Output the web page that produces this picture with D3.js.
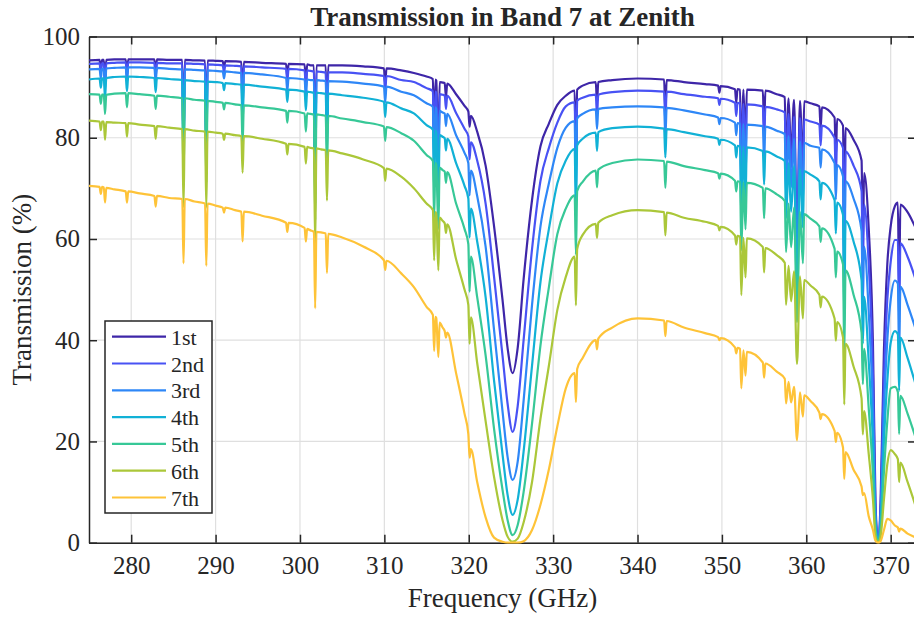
<!DOCTYPE html>
<html lang="en">
<head>
<meta charset="UTF-8">
<title>Transmission in Band 7 at Zenith</title>
<script src="https://cdn.jsdelivr.net/npm/d3@7/dist/d3.min.js"></script>
<style>
    body { margin: 0; background: #fff; }
    text { font-family: "Liberation Serif", "Times New Roman", serif; fill: #262626; }
</style>
</head>
<body>
<svg id="main-svg" width="914" height="618" xmlns="http://www.w3.org/2000/svg"></svg>
<script>
'use strict';

// frequency grid (GHz), one line per stretch of the band
const freqs = [
    275, 276.25, 276.4, 276.55, 276.75, 276.9, 277.05, 278, 279.35, 279.5, 279.65, 281, 282.75, 282.9, 283.05,
    284.5, 286.05, 286.2, 286.35, 287.5, 288.75, 288.9, 289.05, 290, 290.85, 291.0, 291.15, 292.3, 293.05, 293.2, 293.35, 295.5, 298.35, 298.5, 298.65,
    300.55, 300.7, 300.85, 301.25, 301.65, 301.8, 301.95, 302.5, 303.05, 303.2, 303.35, 305, 307.5, 309.95, 310.1, 310.25, 312,
    313.5, 315, 315.75, 315.9, 316.05, 316.15, 316.4, 316.55, 316.9, 317.15, 317.3, 317.45, 318.5, 319.5, 319.95, 320.1, 320.25, 321,
    322, 323, 324, 324.6, 325.2, 325.8, 326.5, 327.5, 328.5, 329.5, 330.5, 331.5,
    332.55, 332.7, 332.85, 333.5, 335.05, 335.2, 335.35, 337, 340, 343.15, 343.3, 343.45, 345.5, 348,
    349.55, 349.7, 349.85, 351.55, 351.7, 351.85, 352.15, 352.3, 352.55, 352.8, 352.95, 354.85, 355.0, 355.15, 356.5, 357.45, 357.6, 357.9, 358.2, 358.55, 358.9, 359.25, 359.6, 359.75, 360.5,
    361.55, 361.7, 361.85, 363.35, 363.5, 363.65, 364.35, 364.5, 364.65, 365.6, 366.55, 366.7, 366.85, 367.4, 367.9, 368.2, 368.5, 368.8, 369.2, 369.6, 370.0, 370.5, 370.85, 371.0, 371.15, 372, 373
];

// transmission (%) for each octile, same grid as freqs
const trans1st = [
    95.3, 95.4, 93.5, 95.4, 95.4, 91.3, 95.4, 95.5, 95.5, 92.4, 95.5, 95.5, 95.5, 92.6, 95.5,
    95.4, 95.4, 77.5, 95.4, 95.3, 95.25, 77.6, 95.25, 95.2, 95.15, 93.7, 95.15, 95.1, 95.0, 86.5, 95.0, 94.8, 94.6, 92.0, 94.6,
    94.5, 90.5, 94.5, 94.3, 94.3, 71.1, 94.3, 94.3, 94.3, 82.2, 94.3, 94.3, 94.1, 93.7, 90.5, 93.7, 93.3,
    92.8, 92.1, 91.6, 77.9, 91.5, 91.3, 75.8, 91.0, 90.9, 90.8, 88.1, 90.7, 88.6, 86.3, 85.2, 82.2, 84.3, 81.2,
    74.5, 62.5, 48.0, 38.5, 33.5, 38.5, 52.0, 67.7, 78.3, 82.8, 86.5, 88.3,
    89.3, 74.1, 89.5, 90.3, 91.0, 86.9, 91.0, 91.4, 91.7, 91.5, 85.1, 91.4, 91.0, 90.6,
    90.3, 88.9, 90.2, 89.6, 86.9, 89.6, 89.5, 72.5, 89.5, 77.9, 89.5, 89.3, 81.7, 89.3, 88.6, 88.0, 74.8, 87.8, 76.7, 87.5, 57.7, 87.3, 73.7, 87.2, 86.8,
    86.2, 81.9, 86.0, 84.0, 75.9, 83.7, 82.4, 55.9, 81.9, 79.6, 75.5, 58.4, 73.0, 62.0, 39.0, 8.0, 0.2, 8.0, 38.0, 55.0, 62.5, 66.5, 67.2, 49.5, 66.8, 65.3, 62.0
];
const trans2nd = [
    94.6, 94.7, 92.8, 94.7, 94.7, 90.6, 94.7, 94.8, 94.9, 91.9, 94.9, 94.9, 94.8, 92.0, 94.8,
    94.7, 94.7, 76.9, 94.7, 94.6, 94.5, 77.0, 94.5, 94.4, 94.3, 92.9, 94.3, 94.2, 94.1, 85.6, 94.1, 93.9, 93.6, 91.1, 93.6,
    93.3, 89.4, 93.3, 93.2, 93.1, 70.2, 93.1, 93.0, 92.9, 81.0, 92.9, 92.9, 92.6, 92.2, 89.1, 92.2, 91.4,
    91.0, 89.8, 89.2, 75.8, 89.1, 88.9, 73.8, 88.6, 88.5, 88.4, 85.7, 88.3, 84.9, 81.8, 80.3, 75.7, 79.1, 75.5,
    67.0, 52.5, 37.0, 27.5, 21.9, 27.0, 40.0, 58.0, 71.5, 78.0, 83.0, 86.2,
    87.0, 72.2, 87.3, 87.9, 88.5, 84.5, 88.5, 89.0, 89.3, 89.1, 82.9, 89.1, 88.6, 88.1,
    87.8, 86.5, 87.7, 86.9, 84.3, 86.9, 86.8, 70.3, 86.7, 75.4, 86.6, 86.2, 78.9, 86.1, 85.6, 85.0, 72.3, 84.7, 74.0, 84.2, 55.6, 83.9, 70.9, 83.6, 83.2,
    82.6, 78.5, 82.4, 80.0, 72.3, 79.6, 78.0, 52.8, 77.3, 74.5, 69.5, 53.6, 66.8, 55.0, 33.0, 6.5, 0.2, 6.5, 32.0, 48.0, 55.5, 59.8, 59.8, 43.5, 59.2, 56.5, 51.8
];
const trans3rd = [
    93.5, 93.6, 91.7, 93.6, 93.6, 89.6, 93.7, 93.8, 93.9, 90.9, 93.9, 93.9, 93.8, 91.0, 93.8,
    93.6, 93.5, 75.9, 93.5, 93.4, 93.3, 76.0, 93.3, 93.2, 93.1, 91.7, 93.1, 92.9, 92.8, 84.4, 92.8, 92.5, 91.8, 89.3, 91.8,
    91.5, 87.7, 91.5, 91.4, 91.4, 68.9, 91.4, 91.3, 91.2, 79.5, 91.2, 91.1, 90.7, 90.1, 87.0, 90.1, 89.1,
    88.4, 86.8, 86.1, 73.2, 86.0, 85.7, 71.1, 85.3, 85.0, 84.8, 82.3, 84.7, 80.5, 77.0, 75.0, 68.6, 73.5, 68.5,
    58.5, 42.0, 26.0, 17.0, 12.4, 16.0, 28.0, 47.0, 62.5, 71.0, 78.0, 82.0,
    83.3, 69.1, 83.8, 84.7, 85.6, 81.7, 85.7, 86.0, 86.2, 86.0, 80.0, 85.9, 85.4, 84.6,
    84.0, 82.7, 83.9, 83.0, 80.5, 82.9, 82.8, 67.0, 82.7, 71.9, 82.6, 82.3, 75.3, 82.2, 81.4, 80.7, 68.6, 80.3, 70.2, 79.8, 52.7, 79.3, 67.0, 79.0, 78.4,
    78.0, 74.1, 77.7, 75.0, 67.8, 74.6, 72.4, 49.0, 71.4, 68.0, 61.6, 47.1, 58.5, 45.5, 26.0, 5.0, 0.2, 5.0, 26.0, 40.0, 48.0, 51.8, 51.2, 37.0, 50.6, 47.0, 42.0
];
const trans4th = [
    91.5, 91.7, 89.9, 91.7, 91.8, 87.8, 91.8, 92.0, 92.1, 89.2, 92.1, 92.0, 91.8, 89.0, 91.8,
    91.6, 91.4, 74.2, 91.4, 91.2, 91.1, 74.2, 91.1, 91.0, 90.8, 89.4, 90.8, 90.6, 90.5, 82.4, 90.5, 90.1, 89.5, 87.1, 89.5,
    89.1, 85.4, 89.1, 89.0, 88.9, 67.0, 88.9, 88.8, 88.7, 77.3, 88.7, 88.4, 87.9, 87.1, 84.1, 87.0, 85.8,
    84.8, 82.5, 81.6, 69.4, 81.4, 81.0, 67.2, 80.5, 80.2, 79.9, 77.5, 79.8, 75.0, 70.5, 68.0, 60.3, 66.0, 59.5,
    48.5, 32.0, 17.5, 9.5, 5.5, 8.5, 18.0, 35.0, 51.5, 62.0, 71.0, 75.5,
    77.8, 64.6, 78.5, 79.8, 81.0, 77.4, 81.1, 81.9, 82.2, 81.8, 76.1, 81.7, 81.1, 80.3,
    79.8, 78.6, 79.6, 78.5, 76.1, 78.4, 78.3, 63.4, 78.2, 68.0, 78.1, 77.4, 70.8, 77.3, 76.3, 75.4, 64.1, 75.0, 65.4, 74.4, 49.0, 73.8, 62.3, 73.4, 72.7,
    71.4, 67.8, 71.1, 67.7, 61.1, 67.2, 64.8, 43.8, 63.6, 59.5, 51.8, 39.3, 48.6, 35.7, 19.5, 3.5, 0.2, 3.5, 20.0, 32.0, 39.5, 41.8, 41.2, 30.0, 40.5, 36.5, 31.0
];
const trans5th = [
    88.6, 88.5, 86.7, 88.5, 88.5, 84.7, 88.5, 88.7, 88.8, 86.0, 88.8, 88.6, 88.3, 85.7, 88.3,
    88.1, 87.8, 71.3, 87.8, 87.5, 87.3, 71.1, 87.3, 87.1, 86.9, 85.6, 86.9, 86.6, 86.4, 78.6, 86.4, 86.0, 85.3, 83.0, 85.3,
    84.8, 81.2, 84.8, 84.7, 84.6, 63.8, 84.6, 84.5, 84.3, 73.5, 84.3, 83.8, 83.1, 82.2, 79.4, 82.1, 80.9,
    79.4, 76.6, 75.4, 64.1, 75.0, 74.7, 62.0, 74.1, 73.6, 73.3, 71.1, 73.2, 67.0, 62.0, 59.0, 49.6, 56.5, 48.5,
    37.0, 22.5, 10.5, 4.5, 1.5, 3.5, 10.0, 23.5, 39.0, 50.5, 61.0, 66.0,
    68.6, 56.9, 69.5, 71.3, 73.5, 70.2, 73.7, 75.0, 75.7, 75.4, 70.1, 75.3, 74.4, 73.6,
    73.0, 71.9, 72.9, 71.5, 69.4, 71.4, 71.3, 57.8, 71.2, 61.9, 71.1, 70.1, 64.1, 70.0, 68.8, 67.5, 57.4, 67.0, 58.4, 66.2, 43.6, 65.4, 55.2, 64.9, 64.0,
    62.5, 59.4, 62.1, 58.1, 52.4, 57.5, 55.0, 37.1, 53.8, 49.0, 41.5, 31.3, 38.3, 26.5, 13.5, 2.3, 0.2, 2.3, 14.0, 24.0, 30.5, 30.8, 29.8, 21.5, 29.0, 25.5, 20.5
];
const trans6th = [
    83.4, 83.2, 81.5, 83.2, 83.2, 79.6, 83.1, 83.0, 82.9, 80.2, 82.9, 82.6, 82.3, 79.8, 82.3,
    82.0, 81.7, 66.3, 81.7, 81.4, 81.2, 66.2, 81.2, 81.0, 80.8, 79.6, 80.8, 80.5, 80.3, 73.1, 80.3, 79.8, 78.8, 76.7, 78.8,
    78.2, 74.9, 78.2, 78.0, 77.9, 58.7, 77.9, 77.7, 77.5, 67.6, 77.5, 76.9, 75.7, 74.0, 71.5, 73.9, 72.3,
    70.0, 67.0, 65.7, 55.8, 65.3, 65.0, 53.8, 64.2, 63.6, 63.1, 61.2, 62.9, 56.0, 50.0, 47.0, 39.3, 44.5, 35.5,
    24.0, 13.0, 4.5, 1.2, 0.2, 0.8, 4.0, 12.0, 24.5, 35.0, 46.0, 52.5,
    56.5, 46.9, 58.0, 60.8, 63.0, 60.2, 63.2, 64.7, 65.7, 65.3, 60.7, 65.2, 64.2, 63.4,
    62.6, 61.7, 62.4, 60.7, 58.9, 60.6, 60.4, 48.9, 60.2, 52.4, 60.1, 58.4, 53.4, 58.2, 56.8, 55.3, 47.0, 54.7, 47.7, 53.6, 35.3, 52.6, 44.3, 51.9, 50.8,
    49.0, 46.5, 48.6, 44.3, 39.9, 43.6, 40.6, 27.3, 39.3, 34.8, 28.5, 21.4, 26.0, 17.5, 8.5, 1.3, 0.1, 1.2, 8.5, 15.5, 18.3, 17.5, 16.5, 12.0, 15.8, 12.0, 7.0
];
const trans7th = [
    70.5, 70.3, 68.9, 70.3, 70.2, 67.2, 70.1, 69.8, 69.4, 67.2, 69.4, 69.0, 68.5, 66.4, 68.5,
    68.1, 67.9, 55.2, 67.9, 67.4, 67.0, 54.7, 67.0, 66.6, 66.2, 65.2, 66.2, 65.7, 65.4, 59.5, 65.4, 64.6, 63.2, 61.4, 63.2,
    62.2, 59.5, 62.0, 61.7, 61.4, 46.3, 61.4, 61.3, 61.1, 53.3, 61.0, 60.3, 58.5, 55.8, 53.9, 55.7, 53.2,
    50.5, 46.6, 45.0, 37.9, 44.6, 44.4, 36.7, 43.5, 42.5, 41.8, 40.5, 41.5, 33.5, 25.5, 21.5, 16.8, 18.5, 12.0,
    5.0, 1.0, 0.2, 0.0, 0.0, 0.0, 0.3, 2.5, 7.5, 14.5, 23.0, 30.5,
    33.5, 27.8, 34.3, 36.5, 40.0, 38.2, 40.3, 42.5, 44.3, 43.9, 40.8, 43.8, 42.5, 41.4,
    40.6, 40.0, 40.4, 38.6, 37.4, 38.5, 38.3, 30.5, 38.0, 33.0, 37.7, 35.6, 32.6, 35.4, 33.8, 32.4, 27.5, 31.8, 27.7, 30.8, 20.2, 29.7, 24.9, 29.1, 28.0,
    25.7, 24.4, 25.4, 22.1, 19.9, 21.7, 18.8, 12.6, 17.9, 14.4, 11.1, 9.4, 9.8, 5.2, 2.5, 0.4, 0.0, 0.3, 2.5, 4.7, 4.4, 3.4, 3.0, 2.2, 2.8, 1.8, 1.0
];

const seriesNames = ['1st', '2nd', '3rd', '4th', '5th', '6th', '7th'];
const seriesValues = [trans1st, trans2nd, trans3rd, trans4th, trans5th, trans6th, trans7th];
// parula-like colours
const seriesColors = ['#3e26a8', '#4852f4', '#2e87f7', '#11b1d6', '#37c897', '#abc739', '#fec338'];

const xTicks = [280, 290, 300, 310, 320, 330, 340, 350, 360, 370];
const yTicks = [0, 20, 40, 60, 80, 100];

seriesValues.forEach((v, i) => {
    if (v.length !== freqs.length) console.warn(seriesNames[i], v.length, freqs.length);
});

const svg = d3.select('#main-svg');
const plotLeft = 89, plotRight = 916, plotTop = 36.5, plotBottom = 542.7;

const x = d3.scaleLinear().domain([275, 373]).range([plotLeft, plotRight]);
const y = d3.scaleLinear().domain([0, 100]).range([plotBottom, plotTop]);

/* grid lines */
const grid = svg.append('g').attr('stroke', '#dfdfdf').attr('stroke-width', 1.2);
grid.selectAll('.gx').data(xTicks).join('line')
    .attr('x1', d => x(d)).attr('x2', d => x(d))
    .attr('y1', plotTop).attr('y2', plotBottom);
grid.selectAll('.gy').data(yTicks).join('line')
    .attr('x1', plotLeft).attr('x2', plotRight)
    .attr('y1', d => y(d)).attr('y2', d => y(d));

/* axes, ticks pointing inward like matlab */
const styleAxis = g => {
    g.select('.domain').attr('stroke', '#262626').attr('stroke-width', 1.5);
    g.selectAll('.tick line').attr('stroke', '#262626').attr('stroke-width', 1.5);
    g.selectAll('text').attr('font-size', 25).attr('fill', '#262626')
        .attr('font-family', '"Liberation Serif", "Times New Roman", serif');
};
svg.append('g').attr('transform', `translate(0,${plotBottom})`)
    .call(d3.axisBottom(x).tickValues(xTicks).tickSize(-8).tickSizeOuter(0).tickPadding(14))
    .call(styleAxis);
svg.append('g').attr('transform', `translate(0,${plotTop})`)
    .call(d3.axisTop(x).tickValues(xTicks).tickSize(-8).tickSizeOuter(0).tickFormat(''))
    .call(styleAxis);
svg.append('g').attr('transform', `translate(${plotLeft},0)`)
    .call(d3.axisLeft(y).tickValues(yTicks).tickSize(-8).tickSizeOuter(0).tickPadding(9))
    .call(styleAxis);
svg.append('g').attr('transform', `translate(${plotRight},0)`)
    .call(d3.axisRight(y).tickValues(yTicks).tickSize(-8).tickSizeOuter(0).tickFormat(''))
    .call(styleAxis);

/* the curves */
svg.append('clipPath').attr('id', 'plot-clip')
    .append('rect').attr('x', plotLeft).attr('y', plotTop - 1)
    .attr('width', plotRight - plotLeft).attr('height', plotBottom - plotTop + 2);

const line = d3.line()
    .x((d, i) => x(freqs[i]))
    .y(d => y(d))
    .curve(d3.curveMonotoneX);

svg.append('g').attr('clip-path', 'url(#plot-clip)')
    .selectAll('path')
    .data(seriesValues)
    .join('path')
    .attr('d', d => line(d))
    .attr('fill', 'none')
    .attr('stroke', (d, i) => seriesColors[i])
    .attr('stroke-width', 2.2)
    .attr('stroke-linejoin', 'round');

/* title and labels */
svg.append('text').attr('x', (plotLeft + plotRight) / 2).attr('y', 26)
    .attr('text-anchor', 'middle').attr('font-size', 27).attr('font-weight', 'bold')
    .attr('fill', '#000')
    .text('Transmission in Band 7 at Zenith');
svg.append('text').attr('x', (plotLeft + plotRight) / 2).attr('y', 607)
    .attr('text-anchor', 'middle').attr('font-size', 27)
    .text('Frequency (GHz)');
svg.append('text').attr('transform', `translate(31,${(plotTop + plotBottom) / 2}) rotate(-90)`)
    .attr('text-anchor', 'middle').attr('font-size', 27)
    .text('Transmission (%)');

/* legend */
const legend = svg.append('g').attr('transform', 'translate(105,321)');
legend.append('rect').attr('width', 107).attr('height', 192)
    .attr('fill', '#fff').attr('stroke', '#262626').attr('stroke-width', 1.5);
const items = legend.selectAll('.item').data(seriesNames).join('g')
    .attr('transform', (d, i) => `translate(0,${15.7 + i * 26.8})`);
items.append('line').attr('x1', 7).attr('x2', 61)
    .attr('stroke', (d, i) => seriesColors[i]).attr('stroke-width', 2.2);
items.append('text').attr('x', 66).attr('y', 8)
    .attr('font-size', 22).text(d => d);
</script>
</body>
</html>
